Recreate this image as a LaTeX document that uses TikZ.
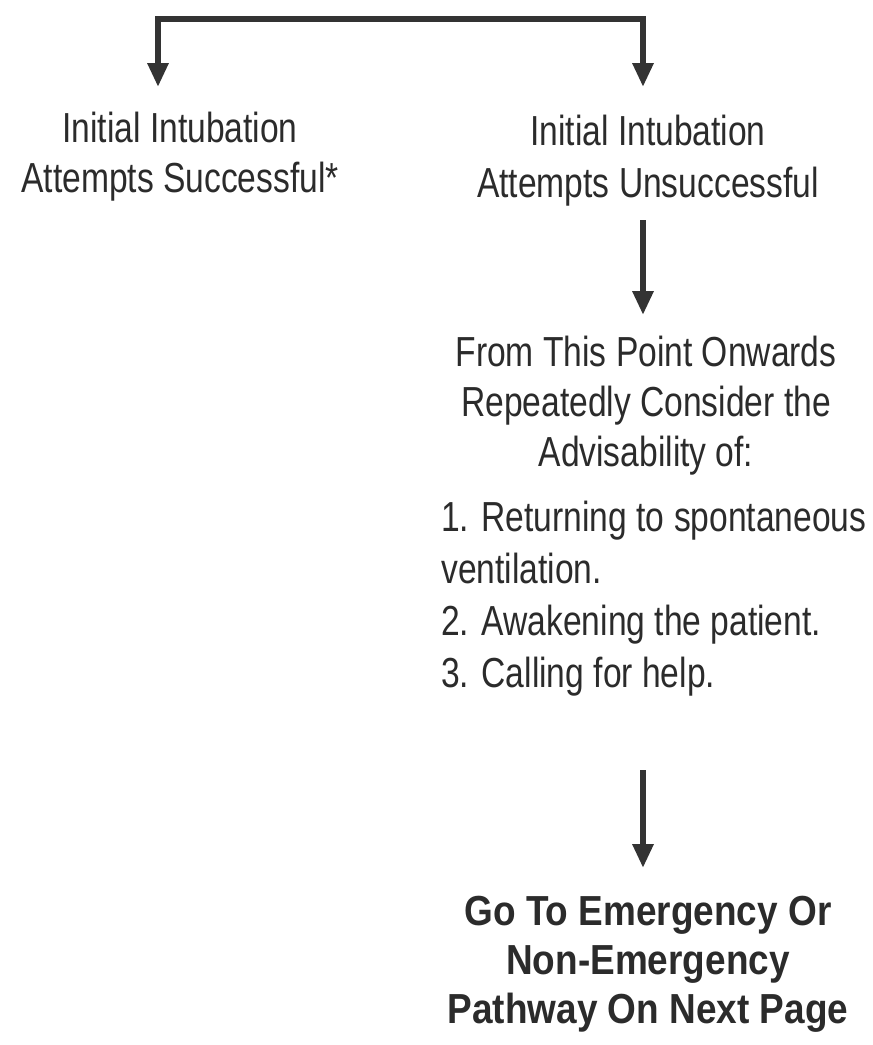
\documentclass[tikz,border=0pt]{standalone}
\usepackage{fontspec}
\setmainfont{Liberation Sans}[FakeStretch=0.8, BoldFeatures={FakeStretch=0.88}]
\usetikzlibrary{arrows.meta}
\definecolor{ink}{HTML}{2B2B2B}
\definecolor{linegray}{HTML}{333333}
\tikzset{
  flow/.style={draw=linegray, line width=6pt,
    -{Triangle[width=20pt,length=24pt]}},
  both/.style={draw=linegray, line width=6pt,
    {Triangle[width=20pt,length=24pt]}-{Triangle[width=20pt,length=24pt]}},
  label/.style={text=ink, inner sep=0pt, align=center, anchor=north,
    font=\fontsize{42}{50}\selectfont},
  listtext/.style={text=ink, inner sep=0pt, align=left, anchor=north west,
    font=\fontsize{42}{52}\selectfont},
  target/.style={text=ink, inner sep=0pt, align=center, anchor=north,
    font=\fontsize{42}{49}\selectfont\bfseries}
}
\begin{document}
\begin{tikzpicture}[x=1pt,y=-1pt]
  \useasboundingbox (0,0) rectangle (873,1045);

  % outcome labels under the split
  \node[label] (succ) at (180,112) {Initial Intubation\\Attempts Successful*};
  \node[label, font=\fontsize{42}{52}\selectfont] (unsucc) at (648,115)
    {Initial Intubation\\Attempts Unsuccessful};

  % advice block on the unsuccessful branch
  \node[label] (consider) at (646,336)
    {From This Point Onwards\\Repeatedly Consider the\\Advisability of:};
  \node[listtext] (options) at (441,501)
    {1. Returning to spontaneous\\ventilation.\\2. Awakening the patient.\\3. Calling for help.};

  % final instruction
  \node[target] (goto) at (648,896)
    {Go To Emergency Or\\Non-Emergency\\Pathway On Next Page};

  % arrow ends
  \coordinate (tipL) at (158,87);
  \coordinate (tipR) at (643,87);
  \coordinate (barL) at (158,19);
  \coordinate (a2s) at (643,220);
  \coordinate (a2e) at (643,315);
  \coordinate (a3s) at (643,770);
  \coordinate (a3e) at (643,868);

  % split bracket and down arrows
  \draw[both] (tipL) -- (barL) -| (tipR);
  \draw[flow] (a2s) -- (a2e);
  \draw[flow] (a3s) -- (a3e);
\end{tikzpicture}
\end{document}
